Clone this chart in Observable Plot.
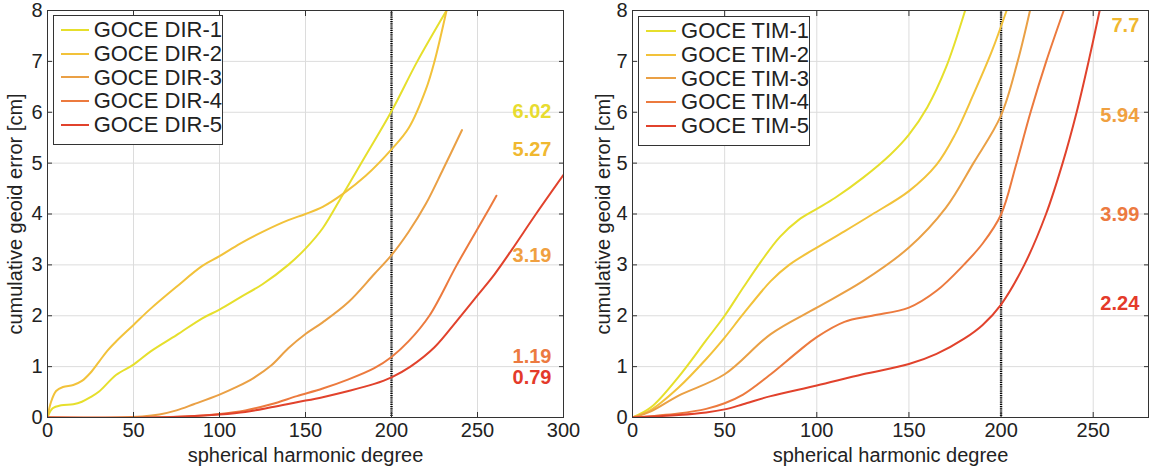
<!DOCTYPE html>
<html><head><meta charset="utf-8">
<script src="https://cdn.jsdelivr.net/npm/d3@7"></script>
<script src="https://cdn.jsdelivr.net/npm/@observablehq/plot@0.6"></script>
<style>
body{margin:0;background:#fff;font-family:"Liberation Sans",Arial,sans-serif}
#wrap{position:relative;width:1153px;height:472px;display:flex;overflow:hidden;background:#fff}
#wrap svg{display:block;overflow:visible}
.legend{position:absolute;border:1px solid #333;background:#fff;box-sizing:border-box;font-size:22px;color:#222;padding-top:2px}
.row{display:flex;align-items:center;height:23.8px;white-space:nowrap}
.sw{display:inline-block;height:2px;margin-right:5px}
</style></head><body><div id="wrap"></div>
<script>
// ---------- data ----------
const yTicks = [0,1,2,3,4,5,6,7,8];
const dirXTicks = [0,50,100,150,200,250,300];
const timXTicks = [0,50,100,150,200,250];
const colors = ["#e6df2c","#f2c23a","#eaa045","#ec7a3e","#e1422c"];

const dirNames = ["GOCE DIR-1","GOCE DIR-2","GOCE DIR-3","GOCE DIR-4","GOCE DIR-5"];
const dir1Deg = [0,3,8,15,20,25,30,40,50,60,75,90,100,112,125,140,150,160,172,185,200,215,232];
const dir1Val = [0,0.18,0.24,0.26,0.31,0.4,0.51,0.84,1.04,1.3,1.62,1.95,2.12,2.36,2.62,3.0,3.32,3.72,4.4,5.15,6.02,7.0,8.0];
const dir2Deg = [0,2,5,9,15,20,25,30,35,40,50,60,75,90,100,112,125,140,150,160,172,185,200,210,220,225,232];
const dir2Val = [0,0.3,0.52,0.6,0.64,0.72,0.88,1.1,1.32,1.5,1.82,2.14,2.57,2.98,3.17,3.42,3.65,3.88,4.0,4.14,4.4,4.75,5.27,5.69,6.45,7.0,8.0];
const dir3Deg = [0,40,55,65,75,85,100,110,120,130,140,150,160,175,190,200,210,220,230,241];
const dir3Val = [0,0,0.02,0.06,0.14,0.26,0.45,0.6,0.78,1.02,1.36,1.64,1.87,2.27,2.82,3.19,3.65,4.2,4.88,5.65];
const dir4Deg = [0,60,80,100,115,130,145,160,175,190,200,210,222,238,255,261];
const dir4Val = [0,0,0.02,0.07,0.14,0.26,0.42,0.57,0.75,0.97,1.19,1.5,2.0,3.0,4.0,4.36];
const dir5Deg = [0,60,80,100,115,130,145,160,175,190,200,211,225,238,250,260,270,284,300];
const dir5Val = [0,0,0.02,0.06,0.11,0.2,0.3,0.4,0.52,0.66,0.79,1.0,1.38,1.9,2.4,2.82,3.3,4.0,4.77];
const dirLabels = ["6.02","5.27","3.19","1.19","0.79"];
const dirLabelVal = [6.02,5.27,3.19,1.19,0.79];
const dirLabelColors = ["#e8dc30","#f0b830","#f0a040","#ec7a40","#e43a2a"];

const timNames = ["GOCE TIM-1","GOCE TIM-2","GOCE TIM-3","GOCE TIM-4","GOCE TIM-5"];
const tim1Deg = [0,10,25,40,50,60,70,80,90,100,110,125,140,150,160,170,180.5];
const tim1Val = [0,0.2,0.8,1.52,2.0,2.55,3.08,3.55,3.88,4.1,4.32,4.71,5.17,5.56,6.1,6.87,8.0];
const tim2Deg = [0,10,25,40,50,60,75,85,100,115,130,150,165,175,185,195,203];
const tim2Val = [0,0.15,0.59,1.15,1.57,2.03,2.68,3.0,3.34,3.66,3.99,4.45,4.97,5.56,6.35,7.2,8.0];
const tim3Deg = [0,10,25,50,75,100,125,150,170,185,200,209,215.7];
const tim3Val = [0,0.12,0.43,0.85,1.64,2.16,2.68,3.34,4.12,5.0,5.94,7.0,8.0];
const tim4Deg = [0,25,40,50,60,75,90,100,115,130,150,165,180,190,200,208,216,224.5,234];
const tim4Val = [0,0.08,0.17,0.28,0.45,0.85,1.3,1.58,1.88,2.0,2.16,2.49,3.01,3.42,3.99,4.95,6.0,7.0,8.0];
const tim5Deg = [0,25,40,50,60,75,100,125,150,165,180,190,200,212.6,224.4,233.4,241,247.5,253.5];
const tim5Val = [0,0.05,0.1,0.16,0.26,0.42,0.63,0.85,1.05,1.25,1.55,1.82,2.22,3.0,4.0,5.0,6.0,7.0,8.0];
const timLabels = ["7.7","5.94","3.99","2.24"];
const timLabelVal = [7.7,5.94,3.99,2.24];
const timLabelColors = ["#f0b830","#f0a040","#ec7a40","#e43a2a"];

// ---------- build ----------
function rows(names, degs, vals) {
  const out = [];
  names.forEach((n, i) => degs[i].forEach((d, j) => out.push({series: n, idx: i, deg: d, val: vals[i][j]})));
  return out;
}
const dirData = rows(dirNames, [dir1Deg,dir2Deg,dir3Deg,dir4Deg,dir5Deg], [dir1Val,dir2Val,dir3Val,dir4Val,dir5Val]);
const timData = rows(timNames, [tim1Deg,tim2Deg,tim3Deg,tim4Deg,tim5Deg], [tim1Val,tim2Val,tim3Val,tim4Val,tim5Val]);

function panel({data, names, xDomain, xTicks, width, ml, mr, labels, labelVal, labelColors, labelX, ylabOffset}) {
  const lab = labels.map((t, i) => ({t, v: labelVal[i], c: labelColors[i]}));
  return Plot.plot({
    width, height: 472, marginLeft: ml, marginRight: mr, marginTop: 10, marginBottom: 55,
    x: {domain: xDomain}, y: {domain: [0, 8]},
    color: {domain: names, range: colors},
    style: {fontFamily: "Liberation Sans, Arial, sans-serif", fontSize: "20px", color: "#222", background: "transparent"},
    marks: [
      Plot.gridX(xTicks, {stroke: "#dcdcdc", strokeOpacity: 1}),
      Plot.gridY(yTicks, {stroke: "#dcdcdc", strokeOpacity: 1}),
      Plot.ruleX([200], {stroke: "#000", strokeWidth: 2.4, strokeDasharray: "1.2 1"}),
      Plot.line(data, {x: "deg", y: "val", z: "series", stroke: "series", strokeWidth: 2, curve: "catmull-rom", clip: true}),
      Plot.text(lab, {x: labelX, y: "v", text: "t", fill: "c", textAnchor: "end", fontWeight: "bold", fontSize: 20}),
      Plot.frame({stroke: "#333", strokeWidth: 1}),
      Plot.axisX(xTicks, {anchor: "bottom", tickSize: 0, tickPadding: 5, fontSize: 20, tickFormat: "d", label: "spherical harmonic degree", labelAnchor: "center", labelOffset: 44, labelArrow: "none"}),
      Plot.axisX(xTicks, {anchor: "bottom", tickSize: -5, text: null, label: null, stroke: "#333"}),
      Plot.axisX(xTicks, {anchor: "top", tickSize: -5, text: null, label: null, stroke: "#333"}),
      Plot.axisY(yTicks, {anchor: "left", tickSize: 0, tickPadding: 5, fontSize: 20, tickFormat: "d", label: "cumulative geoid error [cm]", labelAnchor: "center", labelOffset: ylabOffset, labelArrow: "none"}),
      Plot.axisY(yTicks, {anchor: "left", tickSize: -5, text: null, label: null, stroke: "#333"}),
      Plot.axisY(yTicks, {anchor: "right", tickSize: -5, text: null, label: null, stroke: "#333"})
    ]
  });
}

const wrap = document.getElementById("wrap");
wrap.appendChild(panel({data: dirData, names: dirNames, xDomain: [0, 300], xTicks: dirXTicks, width: 576, ml: 47, mr: 13,
  labels: dirLabels, labelVal: dirLabelVal, labelColors: dirLabelColors, labelX: 293, ylabOffset: 40}));
wrap.appendChild(panel({data: timData, names: timNames, xDomain: [0, 280], xTicks: timXTicks, width: 577, ml: 56, mr: 5,
  labels: timLabels, labelVal: timLabelVal, labelColors: timLabelColors, labelX: 275, ylabOffset: 37}));

function legend(names, left, top, width, lineLeft, lineLen) {
  const box = document.createElement("div");
  box.className = "legend";
  Object.assign(box.style, {left: left + "px", top: top + "px", width: width + "px", height: "130px"});
  names.forEach((n, i) => {
    const r = document.createElement("div");
    r.className = "row";
    r.style.paddingLeft = (lineLeft - left - 1) + "px";
    const s = document.createElement("span");
    s.className = "sw";
    s.style.width = lineLen + "px";
    s.style.background = colors[i];
    r.appendChild(s);
    r.appendChild(document.createTextNode(n));
    box.appendChild(r);
  });
  wrap.appendChild(box);
}
legend(dirNames, 53, 15, 170, 61, 33);
legend(timNames, 638, 16, 172, 646, 34);
</script></body></html>
